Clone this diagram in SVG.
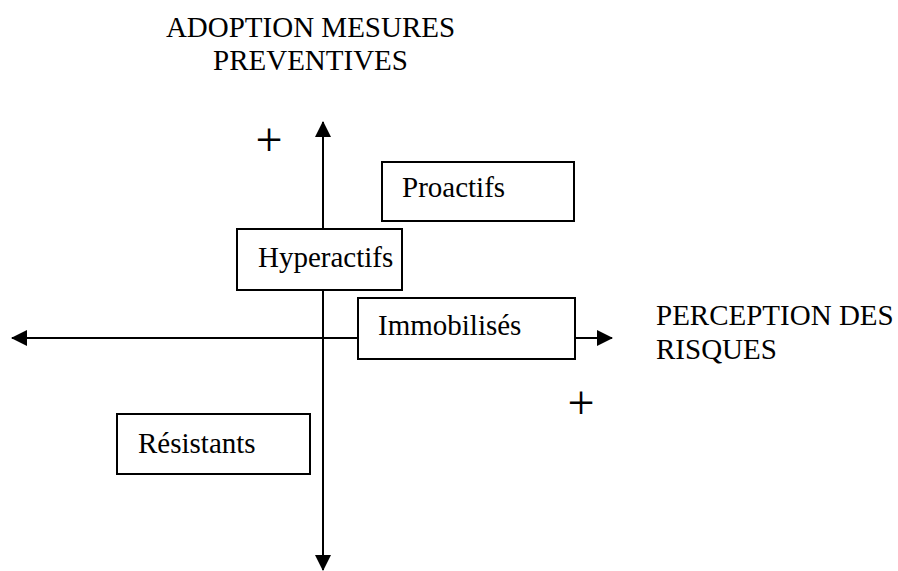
<svg xmlns="http://www.w3.org/2000/svg" width="898" height="571" viewBox="0 0 898 571">
<style>
text{font-family:"Liberation Serif","Times New Roman",serif;fill:#000}
.lbl{font-size:29px}
.title{font-size:29px}
.plus{font-size:48px}
.box{fill:#fff;stroke:#000;stroke-width:2}
.axis{stroke:#000;stroke-width:2;fill:none}
</style>
<defs>
<marker id="ah" viewBox="0 0 16 16" refX="15" refY="8" markerWidth="16" markerHeight="16" markerUnits="userSpaceOnUse" orient="auto">
<path d="M0,0 L16,8 L0,16 Z" fill="#000"/>
</marker>
</defs>
<g id="connectors">
<line class="axis" x1="323" y1="338" x2="323" y2="122" marker-end="url(#ah)"/>
<line class="axis" x1="323" y1="338" x2="323" y2="570" marker-end="url(#ah)"/>
<line class="axis" x1="323" y1="338" x2="12" y2="338" marker-end="url(#ah)"/>
<line class="axis" x1="323" y1="338" x2="612" y2="338" marker-end="url(#ah)"/>
</g>
<g id="title-y">
<text class="title" x="310.5" y="37" text-anchor="middle">ADOPTION MESURES</text>
<text class="title" x="310.5" y="70" text-anchor="middle">PREVENTIVES</text>
</g>
<g id="title-x">
<text class="lbl" x="656" y="325">PERCEPTION DES</text>
<text class="lbl" x="656" y="359">RISQUES</text>
</g>
<g id="plus-top"><text class="plus" x="269" y="156" text-anchor="middle">+</text></g>
<g id="plus-right"><text class="plus" x="581" y="419" text-anchor="middle">+</text></g>
<g id="proactifs">
<rect class="box" x="382" y="162" width="192" height="59"/>
<text class="lbl" x="402" y="197">Proactifs</text>
</g>
<g id="hyperactifs">
<rect class="box" x="237" y="229" width="165" height="61"/>
<text class="lbl" x="258" y="267">Hyperactifs</text>
</g>
<g id="immobilises">
<rect class="box" x="358" y="298" width="217" height="61"/>
<text class="lbl" x="378" y="335">Immobilisés</text>
</g>
<g id="resistants">
<rect class="box" x="117" y="414" width="193" height="60"/>
<text class="lbl" x="138" y="453">Résistants</text>
</g>
</svg>
